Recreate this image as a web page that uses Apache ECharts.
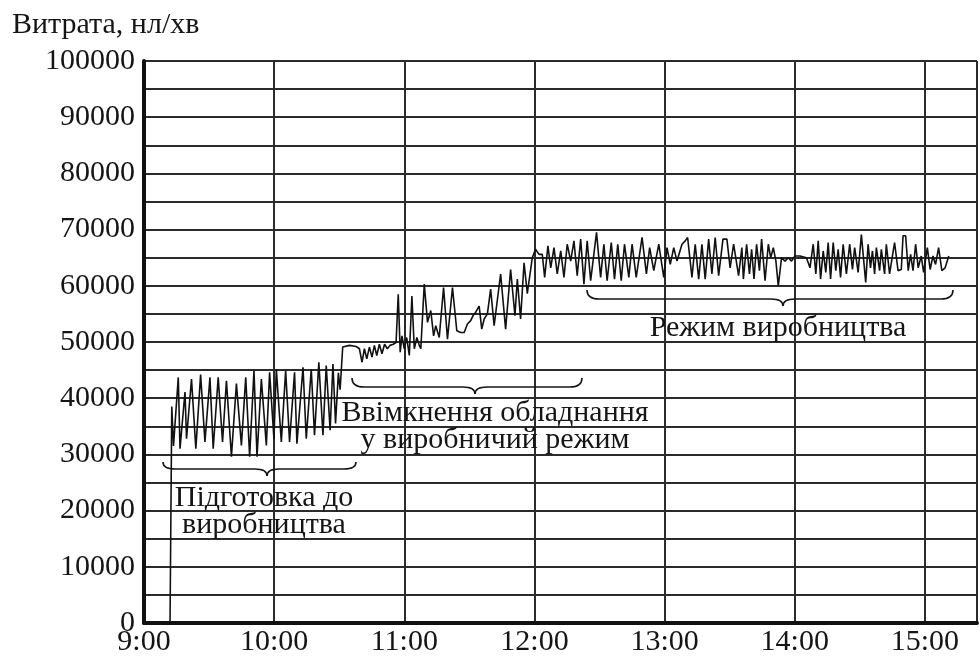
<!DOCTYPE html>
<html>
<head>
<meta charset="utf-8">
<title>Витрата</title>
<script src="https://cdn.jsdelivr.net/npm/echarts@6/dist/echarts.min.js"></script>
<style>
  html, body { margin: 0; padding: 0; background: #fff; }
  #chart { width: 980px; height: 657px; }
</style>
</head>
<body>
<div id="chart"></div>
<script>
// minutes after 9:00 and flow, nl/min
var prepTime = [12.0, 12.8, 13.6, 15.8, 16.6, 18.9, 19.6, 21.9, 23.9, 26.1, 28.1, 30.4, 31.9, 34.2, 36.2, 38.0,
    40.3, 42.6, 44.9, 46.9, 48.7, 50.7, 52.1, 54.1, 56.4, 57.9, 59.9, 61.0, 63.3, 65.3, 67.1, 69.4, 70.5, 73.3,
    74.8, 77.1, 78.6, 80.6, 82.5, 84.0, 85.8, 87.1, 88.3, 89.6, 90.4, 91.6];
var prepFlow = [0, 38500, 31500, 43700, 31000, 41100, 32800, 43400, 31000, 44200, 32200, 43700, 31000, 43700, 32200, 43100,
    29600, 42600, 31600, 43700, 29600, 44900, 29600, 43400, 31600, 44600, 32800, 45200, 32200, 44900, 32200, 44600, 31900, 45500,
    32800, 45200, 33400, 46400, 33400, 45800, 34300, 46100, 35500, 44500, 41500, 49100];

var rampTime = [94.7, 97.8, 99.3, 100.5, 101.6, 102.7, 103.9, 105.1, 106.2, 107.3, 108.5, 109.7, 110.9, 112.2, 113.4, 114.9,
    116.2, 117.2, 118.1, 118.9, 120.0, 121.1, 122.3, 123.5, 124.6, 125.8, 126.9, 127.6, 129.2, 130.7, 132.2, 133.5,
    134.5, 136.1, 138.1, 139.9, 142.2, 144.2, 146.0, 147.6, 149.1, 150.6, 151.7, 152.9, 154.5, 155.7, 156.8, 158.3,
    159.8, 161.4, 164.4, 166.7, 169.0, 171.0, 172.1, 173.6, 175.2, 176.7, 179.0, 180.5];
var rampFlow = [49400, 49200, 48800, 46400, 48800, 47000, 49100, 47300, 49400, 47600, 49600, 47900, 49600, 48800, 49400, 49600,
    49900, 58500, 48200, 51100, 48800, 50800, 47600, 58200, 48800, 50800, 49400, 48800, 60300, 53500, 55600, 51100,
    52900, 50800, 59700, 50500, 59700, 52000, 51700, 51700, 53200, 53800, 54700, 55300, 56400, 52300, 54100, 55000,
    59400, 52900, 62100, 52300, 62900, 54700, 61200, 54100, 64100, 58600, 65000, 66500];

var prodTime = [182.1, 183.6, 184.7, 186.2, 187.5, 189.0, 190.5, 192.1, 193.6, 195.1, 196.7, 198.2, 199.7, 201.3, 202.8, 204.3,
    205.9, 208.6, 210.5, 212.0, 213.5, 215.4, 216.9, 218.4, 220.0, 221.5, 223.5, 225.0, 226.9, 229.6, 231.6, 233.1,
    235.0, 237.3, 239.6, 241.1, 242.6, 244.2, 245.7, 248.0, 249.5, 250.6, 252.6, 254.1, 255.7, 257.2, 258.7, 260.3,
    261.8, 263.3, 264.9, 266.9, 268.7, 270.2, 271.8, 274.1, 275.6, 276.3, 277.8, 279.1, 280.1, 281.2, 282.4, 283.7,
    284.7, 286.3, 287.8, 288.9, 290.1, 291.3, 292.4, 293.9, 295.5, 297.0, 298.5, 300.1, 302.4, 305.4, 307.0, 308.5,
    309.7, 310.8, 311.9, 313.1, 314.3, 315.4, 316.5, 317.7, 318.9, 320.0, 321.1, 322.3, 323.8, 325.3, 326.6, 327.6,
    329.2, 330.7, 332.7, 333.8, 334.9, 335.8, 336.8, 337.6, 339.1, 339.9, 341.4, 342.2, 343.7, 346.0, 347.6, 349.1,
    349.9, 351.1, 352.3, 353.4, 354.5, 355.7, 356.9, 358.3, 359.4, 361.1, 362.4, 363.7, 364.9, 366.3, 367.8, 369.3, 371.0];
var prodFlow = [65600, 65600, 61500, 67100, 63200, 66800, 62100, 66200, 61500, 67400, 64400, 68000, 61800, 68300, 60300, 68000,
    60900, 69500, 61500, 67400, 60900, 67700, 61200, 67400, 60900, 67400, 61500, 67400, 61500, 68600, 62100, 66800,
    62700, 67400, 61500, 66800, 63800, 66800, 64400, 67400, 68000, 68600, 61500, 67400, 61200, 67400, 61200, 68300,
    62100, 68600, 61800, 68300, 68300, 63200, 67400, 61800, 66800, 61200, 67400, 62100, 66500, 61200, 67400, 62700,
    68300, 60900, 67400, 65000, 66800, 64400, 60000, 65000, 64400, 65000, 64400, 65300, 65300, 65000, 63200, 67400,
    62100, 68000, 61200, 66200, 62400, 67700, 61200, 67700, 62700, 66500, 61500, 67400, 62100, 67400, 62900, 66800,
    62400, 69100, 60600, 67400, 63200, 66200, 62100, 66800, 62700, 66500, 62100, 67400, 62100, 67700, 62700, 62900,
    68900, 68900, 62700, 65600, 62700, 67400, 63200, 65300, 62400, 66800, 62900, 65300, 63800, 66800, 62700, 63200, 65300];

var yTitle = 'Витрата, нл/хв';
var phaseLabels = ['Підготовка до\nвиробництва', 'Ввімкнення обладнання\nу виробничий режим', 'Режим виробництва'];

var FONT = 'Liberation Serif';
var INK = '#151515';

function pairs(t, v) {
    var out = [];
    for (var i = 0; i < t.length; i++) out.push([t[i], v[i]]);
    return out;
}

var lineData = pairs(prepTime, prepFlow)
    .concat(pairs(rampTime, rampFlow))
    .concat(pairs(prodTime, prodFlow));

var braceStyle = { fill: 'none', stroke: INK, lineWidth: 1.6 };

function curve(ax, ay, cx, cy, bx, by) {
    return { type: 'bezierCurve', z: 10, shape: { x1: ax, y1: ay, cpx1: cx, cpy1: cy, x2: bx, y2: by }, style: braceStyle };
}

function seg(ax, ay, bx, by) {
    return { type: 'line', z: 10, shape: { x1: ax, y1: ay, x2: bx, y2: by }, style: braceStyle };
}

// curly brace: ends at x1/x2, tip at xm, opening upward
function brace(x1, x2, xm, yTop, yMid, yTip) {
    var r = 12;
    return [
        curve(x1, yTop, x1, yMid, x1 + r, yMid),
        seg(x1 + r, yMid, xm - r, yMid),
        curve(xm - r, yMid, xm, yMid, xm, yTip),
        curve(xm, yTip, xm, yMid, xm + r, yMid),
        seg(xm + r, yMid, x2 - r, yMid),
        curve(x2 - r, yMid, x2, yMid, x2, yTop)
    ];
}

function label(text, x, y) {
    return {
        type: 'text', x: x, y: y, z: 10,
        style: {
            text: text, fill: INK, font: '30px "' + FONT + '"',
            textAlign: 'center', textVerticalAlign: 'top', lineHeight: 27
        }
    };
}

var chart = echarts.init(document.getElementById('chart'));

chart.setOption({
    animation: false,
    backgroundColor: '#fff',
    title: {
        text: yTitle, left: 7, top: 5,
        textStyle: { fontFamily: FONT, fontSize: 30, fontWeight: 'normal', color: INK }
    },
    grid: { left: 144, right: 0, top: 61, bottom: 32 },
    xAxis: {
        type: 'value', min: 0, max: 384, interval: 60,
        axisLine: { show: true, lineStyle: { color: '#111', width: 4 } },
        axisTick: { show: false },
        axisLabel: {
            fontFamily: FONT, fontSize: 30, color: INK, margin: 4,
            formatter: function (v) { return v % 60 === 0 ? (9 + v / 60) + ':00' : ''; }
        },
        splitLine: { show: true, lineStyle: { color: '#2b2b2b', width: 2 } }
    },
    yAxis: {
        type: 'value', min: 0, max: 100000, interval: 5000,
        axisLine: { show: true, lineStyle: { color: '#111', width: 4 } },
        axisTick: { show: false },
        axisLabel: {
            fontFamily: FONT, fontSize: 30, color: INK, margin: 9,
            formatter: function (v) { return v % 10000 === 0 ? String(v) : ''; }
        },
        splitLine: { show: true, lineStyle: { color: '#2b2b2b', width: 2 } }
    },
    series: [{
        type: 'line',
        data: lineData,
        showSymbol: false,
        lineStyle: { color: '#111', width: 1.6 },
        z: 5
    }],
    graphic: []
        .concat(brace(163, 356, 267, 462, 469, 476))
        .concat(brace(352, 582, 475, 378, 387, 394))
        .concat(brace(587, 953, 783, 290, 299, 306))
        .concat([
            label(phaseLabels[0], 264, 485),
            label(phaseLabels[1], 495, 400),
            label(phaseLabels[2], 778, 315)
        ])
});
</script>
</body>
</html>
